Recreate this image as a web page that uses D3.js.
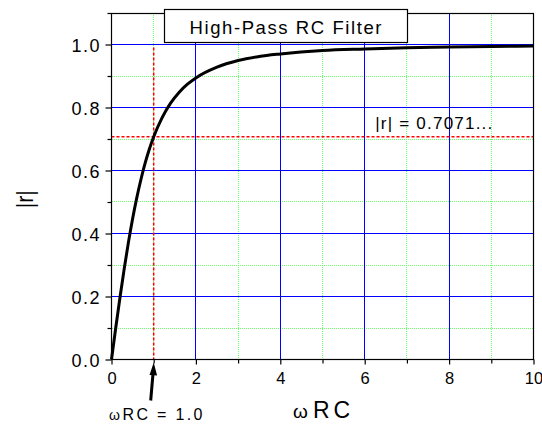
<!DOCTYPE html>
<html><head><meta charset="utf-8">
<script src="https://cdn.jsdelivr.net/npm/d3@7"></script>
<style>
html,body{margin:0;padding:0;background:#fff;}
svg{display:block;font-family:"Liberation Sans",Arial,sans-serif;}
</style></head>
<body>
<svg id="chart" width="542" height="424"></svg>
<script>
// ---- data ----
const omegaRC = [0, 0.1, 0.2, 0.3, 0.4, 0.5, 0.6, 0.7, 0.8, 0.9, 1.0, 1.2, 1.4, 1.6, 1.8, 2.0, 2.5, 3, 3.5, 4, 5, 6, 7, 8, 9, 10];
const magR    = [0, 0.100, 0.196, 0.287, 0.371, 0.447, 0.514, 0.573, 0.625, 0.669, 0.707, 0.768, 0.814, 0.848, 0.874, 0.894, 0.928, 0.949, 0.962, 0.970, 0.981, 0.986, 0.990, 0.992, 0.994, 0.995];
const xMajorTicks = [0, 2, 4, 6, 8, 10];
const xMinorTicks = [1, 3, 5, 7, 9];
const yMajorTicks = [0, 0.2, 0.4, 0.6, 0.8, 1.0];
const yMinorTicks = [0.1, 0.3, 0.5, 0.7, 0.9, 1.1];
const cutoffX = 1.0;
const cutoffY = 0.7071;
const titleText = "High-Pass RC Filter";
const cutoffLabel = "|r| = 0.7071...";
const yTitle = "|r|";

const W = 542, H = 424;
const m = {left: 111.5, right: 8.5, top: 13, bottom: 64.5};
const svg = d3.select("#chart");
const x = d3.scaleLinear().domain([0, 10]).range([m.left, W - m.right]);
const y = d3.scaleLinear().domain([0, 1.1]).range([H - m.bottom, m.top]);
const x0 = x.range()[0], x1 = x.range()[1], y0 = y.range()[0], y1 = y.range()[1];
const px = v => Math.floor(v) + 0.5;

const g = svg.append("g");
const grid = g.append("g").attr("shape-rendering", "crispEdges");
// grid minor (green dotted)
grid.selectAll("line.gxm").data(xMinorTicks).join("line").attr("class", "gxm")
  .attr("x1", d => px(x(d))).attr("x2", d => px(x(d)))
  .attr("y1", y1).attr("y2", y0)
  .attr("stroke", "#66ff66").attr("stroke-width", 1).attr("stroke-dasharray", "1,1");
grid.selectAll("line.gym").data(yMinorTicks.filter(d => d < 1.05)).join("line").attr("class", "gym")
  .attr("x1", x0).attr("x2", x1)
  .attr("y1", d => px(y(d))).attr("y2", d => px(y(d)))
  .attr("stroke", "#66ff66").attr("stroke-width", 1).attr("stroke-dasharray", "1,1");
// grid major (blue)
grid.selectAll("line.gxM").data(xMajorTicks.filter(d => d > 0 && d < 10)).join("line").attr("class", "gxM")
  .attr("x1", d => px(x(d))).attr("x2", d => px(x(d)))
  .attr("y1", y1).attr("y2", y0)
  .attr("stroke", "#0000ff").attr("stroke-width", 1);
grid.selectAll("line.gyM").data(yMajorTicks.filter(d => d > 0)).join("line").attr("class", "gyM")
  .attr("x1", x0).attr("x2", x1)
  .attr("y1", d => px(y(d))).attr("y2", d => px(y(d)))
  .attr("stroke", "#0000ff").attr("stroke-width", 1);

// red dashed cutoff lines
g.append("line")
  .attr("x1", x(cutoffX)).attr("x2", x(cutoffX))
  .attr("y1", y(1.0) + 3).attr("y2", y0)
  .attr("stroke", "#ff0000").attr("stroke-width", 1.5).attr("stroke-dasharray", "3,2");
g.append("line")
  .attr("x1", x0).attr("x2", x1)
  .attr("y1", y(cutoffY)).attr("y2", y(cutoffY))
  .attr("stroke", "#ff0000").attr("stroke-width", 1.5).attr("stroke-dasharray", "3,2");

// curve
const pts = omegaRC.map((v, i) => [v, magR[i]]);
g.append("path").datum(pts)
  .attr("fill", "none").attr("stroke", "#000").attr("stroke-width", 3)
  .attr("stroke-linejoin", "round")
  .attr("d", d3.line().x(d => x(d[0])).y(d => y(d[1])).curve(d3.curveMonotoneX));

// frame
g.append("rect").attr("x", x0).attr("y", y1 + 0.5).attr("width", x1 - x0).attr("height", y0 - y1 - 0.5)
  .attr("fill", "none").attr("stroke", "#000").attr("stroke-width", 1.2);

// axes
const axL = g.append("g").attr("transform", `translate(${x0},0)`)
  .call(d3.axisLeft(y).tickValues(yMajorTicks).tickSize(6).tickPadding(6).tickFormat(d3.format(".1f")));
axL.select(".domain").remove();
axL.selectAll("text").attr("font-size", 18).attr("dy", "0.40em").attr("fill", "#000")
  .attr("font-family", "Liberation Sans, Arial, sans-serif").attr("textLength", 28).attr("lengthAdjust", "spacing");
axL.selectAll("line").attr("stroke-width", 1.2);
const axLm = g.append("g").attr("transform", `translate(${x0},0)`)
  .call(d3.axisLeft(y).tickValues(yMinorTicks).tickSize(4).tickFormat(""));
axLm.select(".domain").remove();
axLm.selectAll("line").attr("stroke-width", 1.2);

const axB = g.append("g").attr("transform", `translate(0,${y0})`)
  .call(d3.axisBottom(x).tickValues(xMajorTicks).tickSize(5).tickPadding(8).tickFormat(d3.format("d")));
axB.select(".domain").remove();
axB.selectAll("text").attr("font-size", 16.5).attr("fill", "#000")
  .attr("font-family", "Liberation Sans, Arial, sans-serif");
axB.selectAll("line").attr("stroke-width", 1.2);
const axBm = g.append("g").attr("transform", `translate(0,${y0})`)
  .call(d3.axisBottom(x).tickValues(xMinorTicks).tickSize(4).tickFormat(""));
axBm.select(".domain").remove();
axBm.selectAll("line").attr("stroke-width", 1.2);

// title box
const tb = {cx: (x0 + x1) / 2 - 37, w: 243, h: 33};
g.append("rect").attr("x", Math.round(tb.cx - tb.w / 2) + 0.5).attr("y", y1 - 3.5)
  .attr("width", tb.w).attr("height", tb.h)
  .attr("fill", "#fff").attr("stroke", "#000").attr("stroke-width", 1.2);
g.append("text").attr("x", tb.cx).attr("y", y1 + 20.5).attr("text-anchor", "middle")
  .attr("font-size", 18.5).attr("textLength", 192).attr("lengthAdjust", "spacing")
  .text(titleText);

// cutoff label
g.append("text").attr("x", x(6.25)).attr("y", y(cutoffY) - 7.5)
  .attr("font-size", 17).attr("textLength", 117).attr("lengthAdjust", "spacing")
  .text(cutoffLabel);

// arrow to omegaRC = 1
const tipX = x(cutoffX), tipY = y0 + 3;
g.append("line").attr("x1", tipX - 3).attr("y1", y0 + 41).attr("x2", tipX - 0.6).attr("y2", tipY + 10)
  .attr("stroke", "#000").attr("stroke-width", 3);
g.append("path")
  .attr("d", `M${tipX},${tipY} L${tipX - 4.2},${tipY + 12.5} L${tipX + 3.4},${tipY + 13} Z`)
  .attr("fill", "#000");
// annotation text "ωRC = 1.0"
g.append("text").attr("x", x(0) - 2.5).attr("y", y0 + 60.5).attr("font-size", 14).text("ω");
g.append("text").attr("x", x(0) + 11).attr("y", y0 + 60.5)
  .attr("font-size", 16).attr("textLength", 80).attr("lengthAdjust", "spacing").text("RC = 1.0");

// axis titles
const xtc = (x0 + x1) / 2;
g.append("text").attr("x", xtc - 29.5).attr("y", y0 + 58.5).attr("font-size", 19).text("ω");
g.append("text").attr("x", xtc - 9.5).attr("y", y0 + 58.5)
  .attr("font-size", 23).attr("textLength", 37).attr("lengthAdjust", "spacing").text("RC");

g.append("text").attr("transform", `translate(33,${(y0 + y1) / 2 + 13}) rotate(-90)`)
  .attr("text-anchor", "middle").attr("font-size", 24)
  .attr("textLength", 18).attr("lengthAdjust", "spacingAndGlyphs").text(yTitle);
</script>
</body></html>
